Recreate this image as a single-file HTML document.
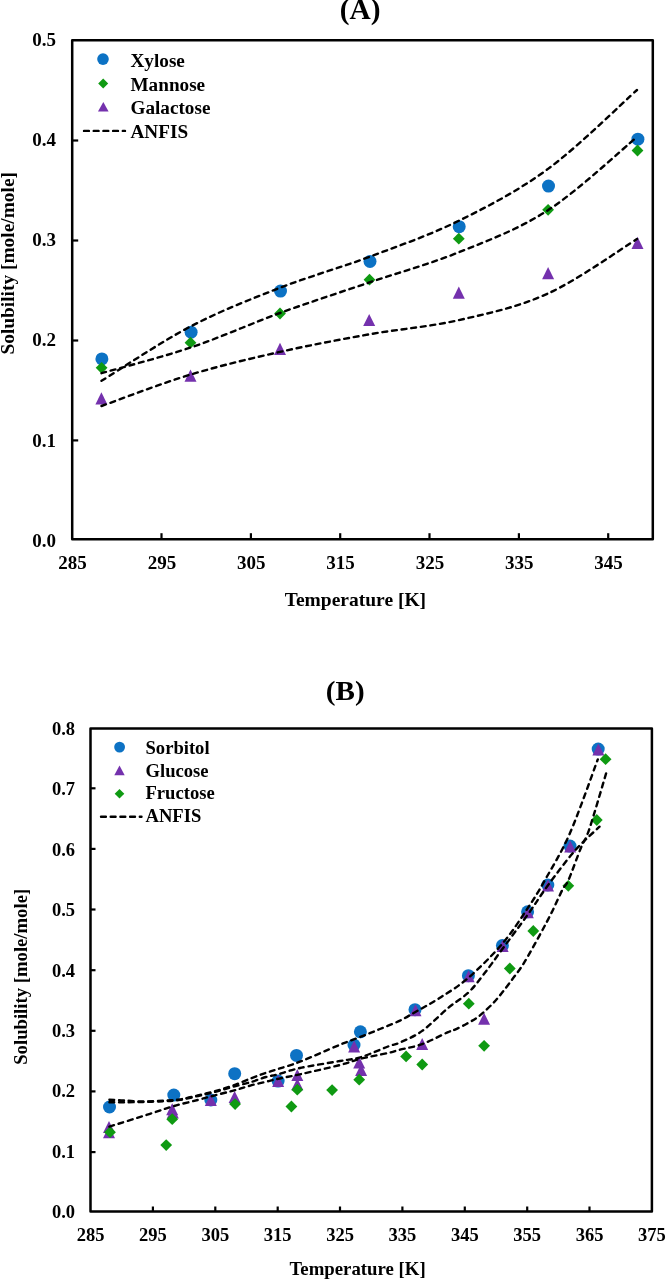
<!DOCTYPE html>
<html><head><meta charset="utf-8"><title>Solubility</title>
<style>
html,body{margin:0;padding:0;background:#fff;}
body{width:666px;height:1279px;overflow:hidden;position:relative;}
svg{position:absolute;left:0;top:0;display:block;will-change:transform;}
text{font-family:"Liberation Serif",serif;font-weight:bold;fill:#000;}
.tk{font-size:19px;}
.lg{font-size:19.2px;}
.ax{font-size:19.5px;}
.tt{font-size:28.6px;}
.dash{fill:none;stroke:#000;stroke-width:2.4;stroke-dasharray:4.9 4.8;stroke-linecap:round;stroke-linejoin:round;}
.fr{fill:none;stroke:#000;stroke-width:2.5;stroke-linejoin:round;}
.t{stroke:#000;stroke-width:2.2;fill:none;}
</style></head><body>
<svg width="666" height="1279" viewBox="0 0 666 1279">
<rect width="666" height="1279" fill="#fff"/>

<!-- Chart A -->
<text class="tt" transform="translate(360.1,19.3) scale(1.027,1)" text-anchor="middle">(A)</text>
<rect class="fr" x="72.2" y="40.2" width="580.6" height="499.0"/>
<text class="tk" x="56" y="546.6" text-anchor="end">0.0</text>
<path class="t" d="M72.2 440.4h6"/>
<text class="tk" x="56" y="446.5" text-anchor="end">0.1</text>
<path class="t" d="M72.2 340.5h6"/>
<text class="tk" x="56" y="346.3" text-anchor="end">0.2</text>
<path class="t" d="M72.2 240.5h6"/>
<text class="tk" x="56" y="246.1" text-anchor="end">0.3</text>
<path class="t" d="M72.2 140.5h6"/>
<text class="tk" x="56" y="146.0" text-anchor="end">0.4</text>
<text class="tk" x="56" y="45.9" text-anchor="end">0.5</text>
<text class="tk" x="72.6" y="568.6" text-anchor="middle">285</text>
<path class="t" d="M161.5 539.2v-6"/>
<text class="tk" x="161.9" y="568.6" text-anchor="middle">295</text>
<path class="t" d="M250.9 539.2v-6"/>
<text class="tk" x="251.3" y="568.6" text-anchor="middle">305</text>
<path class="t" d="M340.2 539.2v-6"/>
<text class="tk" x="340.6" y="568.6" text-anchor="middle">315</text>
<path class="t" d="M429.5 539.2v-6"/>
<text class="tk" x="429.9" y="568.6" text-anchor="middle">325</text>
<path class="t" d="M518.9 539.2v-6"/>
<text class="tk" x="519.3" y="568.6" text-anchor="middle">335</text>
<path class="t" d="M608.2 539.2v-6"/>
<text class="tk" x="608.6" y="568.6" text-anchor="middle">345</text>
<text class="ax" x="355.4" y="605.5" text-anchor="middle">Temperature [K]</text>
<text class="ax" transform="translate(14,263.3) rotate(-90)" text-anchor="middle" style="font-size:19.4px">Solubility [mole/mole]</text>
<circle cx="101.9" cy="358.9" r="6.5" fill="#0c72c4"/>
<circle cx="191.1" cy="332.2" r="6.5" fill="#0c72c4"/>
<circle cx="280.5" cy="291.1" r="6.5" fill="#0c72c4"/>
<circle cx="370.0" cy="261.4" r="6.5" fill="#0c72c4"/>
<circle cx="459.2" cy="226.7" r="6.5" fill="#0c72c4"/>
<circle cx="548.5" cy="186.1" r="6.5" fill="#0c72c4"/>
<circle cx="637.9" cy="139.2" r="6.5" fill="#0c72c4"/>
<path d="M101.6 361.9 l5.9 5.9 l-5.9 5.9 l-5.9 -5.9 z" fill="#0f9a12"/>
<path d="M190.5 336.8 l5.9 5.9 l-5.9 5.9 l-5.9 -5.9 z" fill="#0f9a12"/>
<path d="M280.0 307.6 l5.9 5.9 l-5.9 5.9 l-5.9 -5.9 z" fill="#0f9a12"/>
<path d="M369.5 273.8 l5.9 5.9 l-5.9 5.9 l-5.9 -5.9 z" fill="#0f9a12"/>
<path d="M458.8 232.8 l5.9 5.9 l-5.9 5.9 l-5.9 -5.9 z" fill="#0f9a12"/>
<path d="M548.1 203.9 l5.9 5.9 l-5.9 5.9 l-5.9 -5.9 z" fill="#0f9a12"/>
<path d="M637.5 144.6 l5.9 5.9 l-5.9 5.9 l-5.9 -5.9 z" fill="#0f9a12"/>
<path d="M101.4 392.3 L107.4 404.4 L95.4 404.4 z" fill="#7431ad"/>
<path d="M190.5 369.6 L196.5 381.8 L184.5 381.8 z" fill="#7431ad"/>
<path d="M280.0 342.8 L286.0 354.9 L274.0 354.9 z" fill="#7431ad"/>
<path d="M369.2 313.9 L375.2 326.1 L363.2 326.1 z" fill="#7431ad"/>
<path d="M458.8 286.6 L464.8 298.8 L452.8 298.8 z" fill="#7431ad"/>
<path d="M548.1 267.1 L554.1 279.2 L542.1 279.2 z" fill="#7431ad"/>
<path d="M637.5 236.8 L643.5 248.9 L631.5 248.9 z" fill="#7431ad"/>
<path class="dash" d="M101.5 380.8 C116.3 371.8 160.8 342.0 190.5 326.5 C220.2 311.0 250.2 299.4 280.0 287.8 C309.8 276.2 339.7 268.0 369.5 256.8 C399.3 245.6 429.2 235.3 459.0 220.7 C488.8 206.0 518.3 190.7 548.0 168.9 C577.7 147.1 622.2 103.2 637.0 90.0"/>
<path class="dash" d="M101.5 373.2 C116.3 368.9 160.8 357.6 190.5 347.6 C220.2 337.6 250.2 323.9 280.0 313.0 C309.8 302.1 339.7 292.5 369.5 282.4 C399.3 272.3 429.2 264.2 459.0 252.2 C488.8 240.2 518.3 229.4 548.0 210.2 C577.7 191.0 622.2 149.2 637.0 137.0"/>
<path class="dash" d="M101.5 406.0 C116.3 400.8 160.8 383.6 190.5 374.6 C220.2 365.6 250.2 358.6 280.0 351.9 C309.8 345.2 339.7 339.6 369.5 334.3 C399.3 329.0 429.2 326.9 459.0 320.1 C488.8 313.3 518.3 307.0 548.0 293.5 C577.7 280.0 622.2 248.1 637.0 239.0"/>
<circle cx="103.0" cy="59.1" r="5.8" fill="#0c72c4"/>
<text class="lg" x="130.5" y="66.8">Xylose</text>
<path d="M103.2 78.5 l5.0 5.0 l-5.0 5.0 l-5.0 -5.0 z" fill="#0f9a12"/>
<text class="lg" x="130.5" y="90.6">Mannose</text>
<path d="M103.3 101.9 L108.6 111.5 L98.0 111.5 z" fill="#7431ad"/>
<text class="lg" x="130.5" y="114.2">Galactose</text>
<path class="dash" d="M84 130.9H125"/>
<text class="lg" x="130.5" y="137.7">ANFIS</text>
<!-- Chart B -->
<text class="tt" transform="translate(345.2,700.1) scale(1.055,1)" text-anchor="middle" style="font-size:27.6px">(B)</text>
<rect class="fr" x="90.5" y="728.6" width="561.4" height="482.9"/>
<text class="tk" x="75" y="1218.3" text-anchor="end" style="font-size:18.5px">0.0</text>
<path class="t" d="M90.5 1152.1h5"/>
<text class="tk" x="75" y="1157.8" text-anchor="end" style="font-size:18.5px">0.1</text>
<path class="t" d="M90.5 1091.4h5"/>
<text class="tk" x="75" y="1097.4" text-anchor="end" style="font-size:18.5px">0.2</text>
<path class="t" d="M90.5 1030.8h5"/>
<text class="tk" x="75" y="1036.9" text-anchor="end" style="font-size:18.5px">0.3</text>
<path class="t" d="M90.5 970.2h5"/>
<text class="tk" x="75" y="976.5" text-anchor="end" style="font-size:18.5px">0.4</text>
<path class="t" d="M90.5 909.5h5"/>
<text class="tk" x="75" y="916.0" text-anchor="end" style="font-size:18.5px">0.5</text>
<path class="t" d="M90.5 848.9h5"/>
<text class="tk" x="75" y="855.5" text-anchor="end" style="font-size:18.5px">0.6</text>
<path class="t" d="M90.5 788.3h5"/>
<text class="tk" x="75" y="795.1" text-anchor="end" style="font-size:18.5px">0.7</text>
<text class="tk" x="75" y="734.6" text-anchor="end" style="font-size:18.5px">0.8</text>
<text class="tk" x="90.5" y="1240.8" text-anchor="middle" style="font-size:18.5px">285</text>
<path class="t" d="M152.9 1211.5v-5"/>
<text class="tk" x="152.9" y="1240.8" text-anchor="middle" style="font-size:18.5px">295</text>
<path class="t" d="M215.3 1211.5v-5"/>
<text class="tk" x="215.3" y="1240.8" text-anchor="middle" style="font-size:18.5px">305</text>
<path class="t" d="M277.7 1211.5v-5"/>
<text class="tk" x="277.7" y="1240.8" text-anchor="middle" style="font-size:18.5px">315</text>
<path class="t" d="M340.0 1211.5v-5"/>
<text class="tk" x="340.0" y="1240.8" text-anchor="middle" style="font-size:18.5px">325</text>
<path class="t" d="M402.4 1211.5v-5"/>
<text class="tk" x="402.4" y="1240.8" text-anchor="middle" style="font-size:18.5px">335</text>
<path class="t" d="M464.8 1211.5v-5"/>
<text class="tk" x="464.8" y="1240.8" text-anchor="middle" style="font-size:18.5px">345</text>
<path class="t" d="M527.2 1211.5v-5"/>
<text class="tk" x="527.2" y="1240.8" text-anchor="middle" style="font-size:18.5px">355</text>
<path class="t" d="M589.5 1211.5v-5"/>
<text class="tk" x="589.5" y="1240.8" text-anchor="middle" style="font-size:18.5px">365</text>
<text class="tk" x="651.9" y="1240.8" text-anchor="middle" style="font-size:18.5px">375</text>
<text class="ax" x="357.6" y="1274.8" text-anchor="middle" style="font-size:18.8px">Temperature [K]</text>
<text class="ax" transform="translate(27.4,976.8) rotate(-90)" text-anchor="middle" style="font-size:18.7px">Solubility [mole/mole]</text>
<g filter="url(#sb)">
<circle cx="109.5" cy="1107.0" r="6.5" fill="#0c72c4"/>
<circle cx="173.8" cy="1095.1" r="6.5" fill="#0c72c4"/>
<circle cx="210.8" cy="1100.0" r="6.5" fill="#0c72c4"/>
<circle cx="234.7" cy="1073.7" r="6.5" fill="#0c72c4"/>
<circle cx="278.1" cy="1081.1" r="6.5" fill="#0c72c4"/>
<circle cx="296.5" cy="1055.4" r="6.5" fill="#0c72c4"/>
<circle cx="354.0" cy="1045.0" r="6.5" fill="#0c72c4"/>
<circle cx="360.4" cy="1031.8" r="6.5" fill="#0c72c4"/>
<circle cx="415.0" cy="1009.7" r="6.5" fill="#0c72c4"/>
<circle cx="468.4" cy="975.7" r="6.5" fill="#0c72c4"/>
<circle cx="502.4" cy="945.6" r="6.5" fill="#0c72c4"/>
<circle cx="527.6" cy="911.8" r="6.5" fill="#0c72c4"/>
<circle cx="547.8" cy="885.0" r="6.5" fill="#0c72c4"/>
<circle cx="570.0" cy="846.1" r="6.5" fill="#0c72c4"/>
<circle cx="598.2" cy="749.1" r="6.5" fill="#0c72c4"/>
</g>
<path d="M109.0 1120.9 L115.0 1133.0 L103.0 1133.0 z" fill="#7431ad"/>
<path d="M109.0 1126.2 L115.0 1138.3 L103.0 1138.3 z" fill="#7431ad"/>
<path d="M172.2 1103.2 L178.2 1115.3 L166.2 1115.3 z" fill="#7431ad"/>
<path d="M172.8 1106.5 L178.8 1118.6 L166.8 1118.6 z" fill="#7431ad"/>
<path d="M210.8 1094.0 L216.8 1106.0 L204.8 1106.0 z" fill="#7431ad"/>
<path d="M234.6 1091.0 L240.6 1103.0 L228.6 1103.0 z" fill="#7431ad"/>
<path d="M278.1 1075.0 L284.1 1087.1 L272.1 1087.1 z" fill="#7431ad"/>
<path d="M297.3 1069.0 L303.3 1081.1 L291.3 1081.1 z" fill="#7431ad"/>
<path d="M297.3 1078.2 L303.3 1090.3 L291.3 1090.3 z" fill="#7431ad"/>
<path d="M354.1 1040.5 L360.1 1052.5 L348.1 1052.5 z" fill="#7431ad"/>
<path d="M359.2 1056.4 L365.2 1068.5 L353.2 1068.5 z" fill="#7431ad"/>
<path d="M361.1 1064.0 L367.1 1076.0 L355.1 1076.0 z" fill="#7431ad"/>
<path d="M415.5 1004.2 L421.5 1016.2 L409.5 1016.2 z" fill="#7431ad"/>
<path d="M422.2 1038.0 L428.2 1050.1 L416.2 1050.1 z" fill="#7431ad"/>
<path d="M468.6 970.2 L474.6 982.2 L462.6 982.2 z" fill="#7431ad"/>
<path d="M484.1 1012.8 L490.1 1024.8 L478.1 1024.8 z" fill="#7431ad"/>
<path d="M502.6 940.0 L508.6 952.0 L496.6 952.0 z" fill="#7431ad"/>
<path d="M527.8 906.2 L533.8 918.2 L521.8 918.2 z" fill="#7431ad"/>
<path d="M548.0 879.4 L554.0 891.4 L542.0 891.4 z" fill="#7431ad"/>
<path d="M570.2 840.5 L576.2 852.5 L564.2 852.5 z" fill="#7431ad"/>
<path d="M598.4 743.5 L604.4 755.5 L592.4 755.5 z" fill="#7431ad"/>
<path d="M110.0 1126.3 l5.9 5.9 l-5.9 5.9 l-5.9 -5.9 z" fill="#0f9a12"/>
<path d="M172.2 1113.3 l5.9 5.9 l-5.9 5.9 l-5.9 -5.9 z" fill="#0f9a12"/>
<path d="M166.2 1139.2 l5.9 5.9 l-5.9 5.9 l-5.9 -5.9 z" fill="#0f9a12"/>
<path d="M235.1 1098.2 l5.9 5.9 l-5.9 5.9 l-5.9 -5.9 z" fill="#0f9a12"/>
<path d="M297.3 1083.8 l5.9 5.9 l-5.9 5.9 l-5.9 -5.9 z" fill="#0f9a12"/>
<path d="M291.4 1100.6 l5.9 5.9 l-5.9 5.9 l-5.9 -5.9 z" fill="#0f9a12"/>
<path d="M332.1 1084.2 l5.9 5.9 l-5.9 5.9 l-5.9 -5.9 z" fill="#0f9a12"/>
<path d="M359.2 1073.8 l5.9 5.9 l-5.9 5.9 l-5.9 -5.9 z" fill="#0f9a12"/>
<path d="M406.1 1050.5 l5.9 5.9 l-5.9 5.9 l-5.9 -5.9 z" fill="#0f9a12"/>
<path d="M422.2 1058.6 l5.9 5.9 l-5.9 5.9 l-5.9 -5.9 z" fill="#0f9a12"/>
<path d="M468.8 997.8 l5.9 5.9 l-5.9 5.9 l-5.9 -5.9 z" fill="#0f9a12"/>
<path d="M484.1 1039.9 l5.9 5.9 l-5.9 5.9 l-5.9 -5.9 z" fill="#0f9a12"/>
<path d="M509.8 962.6 l5.9 5.9 l-5.9 5.9 l-5.9 -5.9 z" fill="#0f9a12"/>
<path d="M533.3 925.1 l5.9 5.9 l-5.9 5.9 l-5.9 -5.9 z" fill="#0f9a12"/>
<path d="M568.3 879.9 l5.9 5.9 l-5.9 5.9 l-5.9 -5.9 z" fill="#0f9a12"/>
<path d="M596.8 814.1 l5.9 5.9 l-5.9 5.9 l-5.9 -5.9 z" fill="#0f9a12"/>
<path d="M605.6 753.3 l5.9 5.9 l-5.9 5.9 l-5.9 -5.9 z" fill="#0f9a12"/>
<path class="dash" d="M109.4 1099.7 C112.0 1099.8 119.1 1100.3 125.0 1100.6 C130.9 1100.9 138.3 1101.5 145.0 1101.5 C151.7 1101.5 159.2 1100.9 165.0 1100.6 C170.8 1100.2 174.5 1100.3 180.0 1099.4 C185.5 1098.5 192.2 1096.8 198.0 1095.4 C203.8 1094.0 209.2 1092.8 215.0 1091.2 C220.8 1089.6 226.7 1087.8 232.8 1085.6 C238.9 1083.4 246.2 1080.2 251.7 1078.1 C257.2 1076.0 261.6 1074.3 266.0 1072.8 C270.4 1071.3 272.5 1070.8 278.2 1068.9 C283.9 1067.1 289.7 1065.7 300.0 1061.7 C310.3 1057.7 329.9 1048.8 340.0 1044.7 C350.1 1040.6 353.7 1039.5 360.4 1036.9 C367.1 1034.3 373.4 1031.7 380.0 1029.0 C386.6 1026.3 394.2 1023.4 400.0 1020.6 C405.8 1017.8 408.3 1016.0 415.0 1012.2 C421.7 1008.4 431.1 1003.4 440.0 997.7 C448.9 992.0 458.0 986.8 468.4 977.8 C478.8 968.8 492.5 955.2 502.4 943.6 C512.3 932.0 520.6 918.8 527.7 908.2 C534.8 897.6 538.0 892.5 545.0 880.0 C552.0 867.5 561.2 853.1 570.0 833.0 C578.8 812.9 593.2 771.7 597.8 759.4"/>
<path class="dash" d="M109.4 1102.2 C112.0 1102.2 119.1 1102.2 125.0 1102.2 C130.9 1102.2 138.3 1102.1 145.0 1101.9 C151.7 1101.7 159.2 1101.5 165.0 1101.2 C170.8 1100.9 174.5 1100.8 180.0 1099.9 C185.5 1099.0 192.2 1097.3 198.0 1096.0 C203.8 1094.7 209.2 1093.4 215.0 1091.9 C220.8 1090.4 226.7 1088.5 232.8 1086.8 C238.9 1085.1 246.2 1083.4 251.7 1081.8 C257.2 1080.2 261.6 1078.2 266.0 1077.0 C270.4 1075.8 272.5 1075.8 278.2 1074.3 C283.9 1072.8 289.7 1070.2 300.0 1068.0 C310.3 1065.8 329.9 1062.8 340.0 1061.0 C350.1 1059.2 352.4 1059.7 360.4 1057.3 C368.4 1054.9 381.4 1049.0 388.0 1046.5 C394.6 1044.0 394.3 1045.1 400.0 1042.5 C405.7 1039.9 414.2 1036.7 422.2 1030.9 C430.2 1025.2 440.4 1014.4 448.1 1008.0 C455.8 1001.6 462.5 998.1 468.5 992.4 C474.5 986.7 478.5 981.0 484.1 973.8 C489.8 966.6 495.1 958.9 502.4 949.0 C509.7 939.1 520.1 925.3 527.7 914.7 C535.3 904.1 540.0 896.1 547.8 885.5 C555.6 874.9 566.1 860.7 574.7 850.9 C583.3 841.1 595.4 830.7 599.5 826.7"/>
<path class="dash" d="M109.4 1126.6 C116.2 1124.5 139.2 1117.2 150.0 1113.8 C160.8 1110.4 166.0 1108.3 174.0 1106.0 C182.0 1103.7 191.2 1101.7 198.0 1099.9 C204.8 1098.1 209.7 1096.7 215.0 1095.3 C220.3 1093.9 225.8 1092.6 230.0 1091.5 C234.2 1090.4 236.4 1089.8 240.0 1088.7 C243.6 1087.7 247.4 1086.4 251.7 1085.2 C256.0 1084.0 261.6 1082.9 266.0 1081.8 C270.4 1080.7 272.5 1080.0 278.2 1078.8 C283.9 1077.5 289.7 1076.6 300.0 1074.3 C310.3 1072.0 329.9 1067.6 340.0 1065.0 C350.1 1062.4 352.4 1060.8 360.4 1058.8 C368.4 1056.8 381.4 1054.5 388.0 1053.0 C394.6 1051.5 394.3 1051.2 400.0 1049.7 C405.7 1048.2 414.2 1047.0 422.2 1044.1 C430.2 1041.2 442.6 1034.5 448.1 1032.1 C453.6 1029.7 451.9 1031.0 455.0 1029.6 C458.1 1028.2 463.1 1025.8 466.7 1023.8 C470.3 1021.8 473.8 1019.8 476.6 1017.9 C479.5 1016.0 481.0 1014.6 483.8 1012.1 C486.6 1009.6 491.0 1005.4 493.7 1002.6 C496.4 999.8 496.9 999.1 500.0 995.3 C503.1 991.5 508.0 985.1 512.0 979.7 C516.0 974.3 519.4 970.3 524.0 962.9 C528.6 955.5 535.0 943.7 539.6 935.3 C544.2 926.9 547.9 920.0 551.7 912.4 C555.5 904.8 559.7 895.0 562.5 889.6 C565.3 884.2 565.4 887.0 568.5 880.0 C571.6 873.0 577.5 856.2 581.0 847.7 C584.5 839.2 585.2 841.2 589.4 828.8 C593.6 816.4 603.4 782.4 606.2 773.1"/>
<defs><filter id="sb" x="-5%" y="-5%" width="110%" height="110%"><feGaussianBlur stdDeviation="0.6"/></filter></defs>
<g filter="url(#sb)"><circle cx="119.6" cy="747.1" r="5.4" fill="#0c72c4"/></g>
<text class="lg" x="145.5" y="753.6" style="font-size:18.6px">Sorbitol</text>
<path d="M119.5 765.6 L124.7 775.2 L114.3 775.2 z" fill="#7431ad"/>
<text class="lg" x="145.5" y="776.6" style="font-size:18.6px">Glucose</text>
<path d="M119.5 788.9 l4.8 4.8 l-4.8 4.8 l-4.8 -4.8 z" fill="#0f9a12"/>
<text class="lg" x="145.5" y="799.4" style="font-size:18.6px">Fructose</text>
<path class="dash" d="M101 816.8H141.5"/>
<text class="lg" x="145.5" y="822.3" style="font-size:18.6px">ANFIS</text>
</svg></body></html>
